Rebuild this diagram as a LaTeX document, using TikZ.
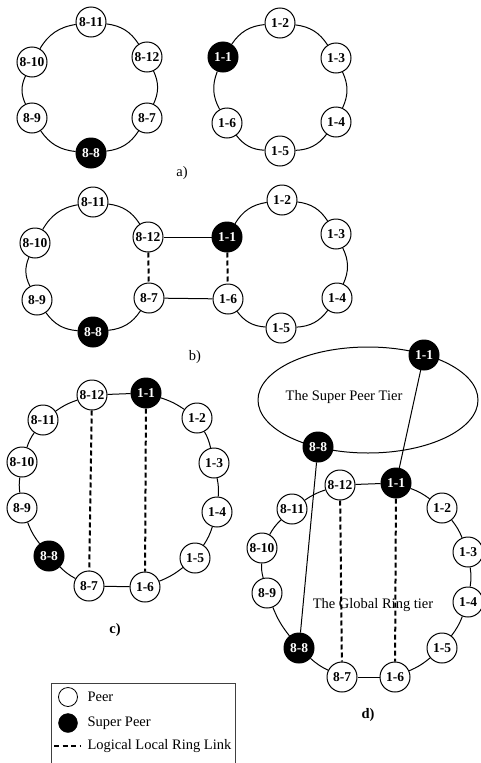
\documentclass[tikz,border=0pt]{standalone}
\usepackage{fontspec}
\setmainfont{Liberation Serif}

\begin{document}
\begin{tikzpicture}[x=1pt, y=-1pt,
    peer/.style={circle, draw, line width=1pt, fill=white, minimum size=30pt,
      inner sep=0pt, font=\fontsize{13.5}{13.5}\selectfont\bfseries},
    super/.style={peer, fill=black, text=white},
    ring/.style={line width=1pt},
    local/.style={line width=2pt, dash pattern=on 5pt off 3pt},
    caption/.style={font=\fontsize{14.5}{14.5}\selectfont}]
    \useasboundingbox (0,0) rectangle (480,763);

    % a) two separate local rings
    \node[peer]  (a811) at (91,22)   {8-11};
    \node[peer]  (a812) at (147,57)  {8-12};
    \node[peer]  (a87)  at (147,118) {8-7};
    \node[super] (a88)  at (91,153)  {8-8};
    \node[peer]  (a89)  at (32,118)  {8-9};
    \node[peer]  (a810) at (32,62)   {8-10};
    \node[super] (a11)  at (223,57)  {1-1};
    \node[peer]  (a12)  at (280,23)  {1-2};
    \node[peer]  (a13)  at (336,58)  {1-3};
    \node[peer]  (a14)  at (336,122) {1-4};
    \node[peer]  (a15)  at (280,151) {1-5};
    \node[peer]  (a16)  at (227,123) {1-6};
    \foreach \u/\v in {a811/a812, a812/a87, a87/a88, a88/a89, a89/a810, a810/a811,
                       a11/a12, a12/a13, a13/a14, a14/a15, a15/a16, a16/a11}
        \draw[ring] (\u) to[bend left=25] (\v);
    \node[caption] (capA) at (182,173) {a)};

    % b) the two rings joined
    \node[peer]  (b811) at (93,202)  {8-11};
    \node[peer]  (b812) at (148,237) {8-12};
    \node[peer]  (b87)  at (149,298) {8-7};
    \node[super] (b88)  at (93,332)  {8-8};
    \node[peer]  (b89)  at (37,300)  {8-9};
    \node[peer]  (b810) at (35,243)  {8-10};
    \node[super] (b11)  at (227,237) {1-1};
    \node[peer]  (b12)  at (282,200) {1-2};
    \node[peer]  (b13)  at (336,234) {1-3};
    \node[peer]  (b14)  at (337,298) {1-4};
    \node[peer]  (b15)  at (281,328) {1-5};
    \node[peer]  (b16)  at (228,299) {1-6};
    \foreach \u/\v in {b811/b812, b87/b88, b88/b89, b89/b810, b810/b811,
                       b11/b12, b12/b13, b13/b14, b14/b15, b15/b16}
        \draw[ring] (\u) to[bend left=25] (\v);
    \draw[ring] (b812) -- (b11);
    \draw[ring] (b87) -- (b16);
    \draw[local] (b812) -- (b87);
    \draw[local] (b11) -- (b16);
    \node[caption] (capB) at (195,357) {b)};

    % c) one global ring
    \node[peer]  (c812) at (92,395)  {8-12};
    \node[super] (c11)  at (146,393) {1-1};
    \node[peer]  (c12)  at (197,418) {1-2};
    \node[peer]  (c13)  at (214,463) {1-3};
    \node[peer]  (c14)  at (217,512) {1-4};
    \node[peer]  (c15)  at (195,558) {1-5};
    \node[peer]  (c16)  at (145,587) {1-6};
    \node[peer]  (c87)  at (89,586)  {8-7};
    \node[super] (c88)  at (49,556)  {8-8};
    \node[peer]  (c89)  at (22,508)  {8-9};
    \node[peer]  (c810) at (22,462)  {8-10};
    \node[peer]  (c811) at (43,420)  {8-11};
    \foreach \u/\v in {c11/c12, c12/c13, c13/c14, c14/c15, c15/c16,
                       c87/c88, c88/c89, c89/c810, c810/c811, c811/c812}
        \draw[ring] (\u) to[bend left=8] (\v);
    \draw[ring] (c812) -- (c11);
    \draw[ring] (c16) -- (c87);
    \draw[local] (c812) -- (c87);
    \draw[local] (c11) -- (c16);
    \node[caption, font=\fontsize{14.5}{14.5}\selectfont\bfseries] (capC) at (115,630) {c)};

    % d) super peer tier above the global ring
    \draw[ring] (368,400) ellipse [x radius=110pt, y radius=53pt];
    \node[caption] (superTier) at (344,397) {The Super Peer Tier};
    \node[caption] (globalTier) at (373,605) {The Global Ring tier};
    \node[super] (dt11) at (424,355) {1-1};
    \node[super] (dt88) at (318,447) {8-8};
    \node[peer]  (d812) at (340,485) {8-12};
    \node[super] (d11)  at (396,483) {1-1};
    \node[peer]  (d12)  at (442,508) {1-2};
    \node[peer]  (d13)  at (468,552) {1-3};
    \node[peer]  (d14)  at (468,602) {1-4};
    \node[peer]  (d15)  at (442,648) {1-5};
    \node[peer]  (d16)  at (395,677) {1-6};
    \node[peer]  (d87)  at (342,677) {8-7};
    \node[super] (d88)  at (299,648) {8-8};
    \node[peer]  (d89)  at (267,593) {8-9};
    \node[peer]  (d810) at (262,548) {8-10};
    \node[peer]  (d811) at (292,509) {8-11};
    \foreach \u/\v in {d11/d12, d12/d13, d13/d14, d14/d15, d15/d16,
                       d87/d88, d88/d89, d89/d810, d810/d811, d811/d812}
        \draw[ring] (\u) to[bend left=8] (\v);
    \draw[ring] (d812) -- (d11);
    \draw[ring] (d16) -- (d87);
    \draw[local] (d812) -- (d87);
    \draw[local] (d11) -- (d16);
    \draw[ring] (dt11) -- (d11);
    \draw[ring] (dt88) -- (d88);
    \node[caption, font=\fontsize{14.5}{14.5}\selectfont\bfseries] (capD) at (368,715) {d)};

    % legend
    \draw[line width=0.8pt, black!75] (51,770) |- (235,683) -- (235,770);
    \node[circle, draw, line width=0.8pt, minimum size=19pt, inner sep=0pt] (keyPeer) at (68,697) {};
    \node[circle, draw, fill=black, minimum size=19pt, inner sep=0pt] (keySuper) at (68,723) {};
    \coordinate (keyLinkA) at (54,746);
    \coordinate (keyLinkB) at (80,746);
    \draw[line width=2pt, dash pattern=on 5pt off 3.5pt] (keyLinkA) -- (keyLinkB);
    \node[caption, anchor=west] (txtPeer)  at (84,697) {Peer};
    \node[caption, anchor=west] (txtSuper) at (84,723) {Super Peer};
    \node[caption, anchor=west] (txtLink)  at (84,746) {Logical Local Ring Link};
\end{tikzpicture}
\end{document}
